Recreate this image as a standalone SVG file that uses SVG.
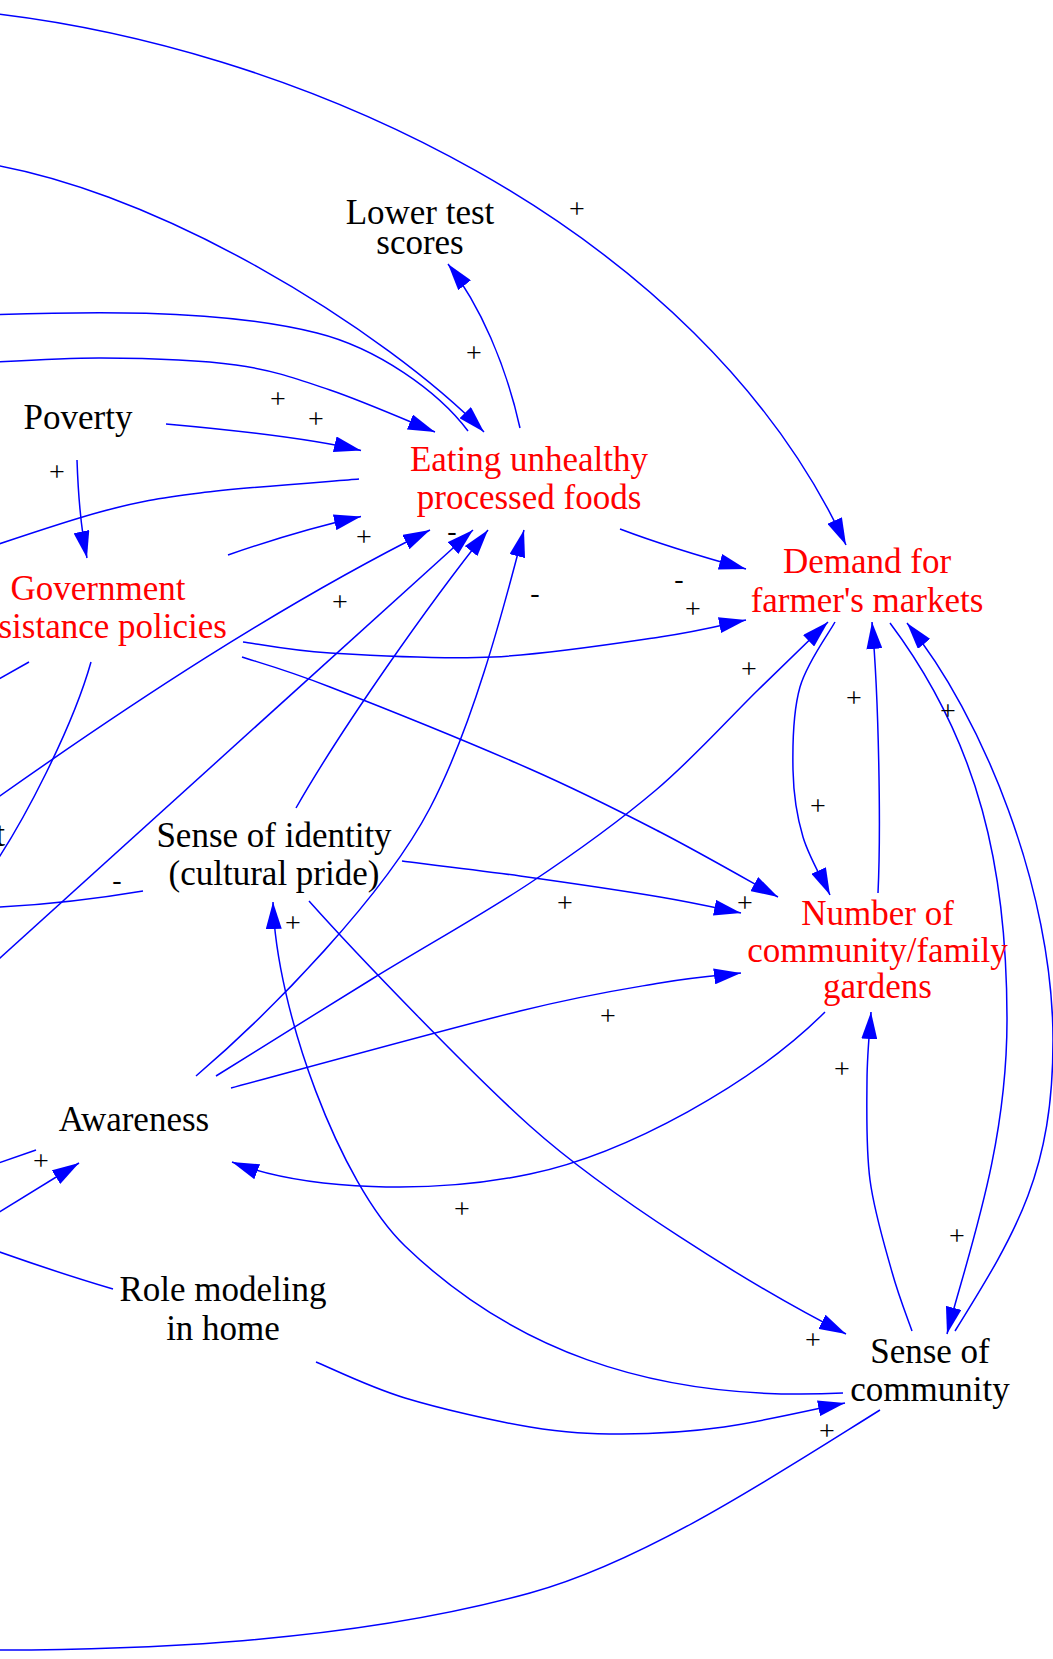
<svg xmlns="http://www.w3.org/2000/svg" width="1053" height="1659" viewBox="0 0 1053 1659">
<defs>
<marker id="ah" viewBox="0 0 27 16" markerWidth="27" markerHeight="16" markerUnits="userSpaceOnUse" refX="27" refY="8" orient="auto">
<path d="M0,0 L27,8 L0,16 Z" fill="#0000ff"/>
</marker>
<style>
.e{fill:none;stroke:#0000ff;stroke-width:1.5}
.a{marker-end:url(#ah)}
.n{font-family:"Liberation Serif","Times New Roman",serif;font-size:35px;text-anchor:middle;fill:#000}
.r{fill:#ff0000}
.l{font-family:"Liberation Serif","Times New Roman",serif;font-size:28px;text-anchor:middle;fill:#000}
</style>
</defs>
<rect width="1053" height="1659" fill="#ffffff"/>
<g id="connectors">
<path class="e a" d="M-40,10 C300,40 700,230 846,545"/>
<path class="e a" d="M-40,160 C150,180 390,335 484,432"/>
<path class="e" d="M468,431 C438,391 377,348 317,333 C217,308 80,311 -40,316"/>
<path class="e a" d="M-40,364 C-16.5,363 55,357.8 101,358 C147,358.2 197.8,359.7 236,365 C274.2,370.3 296.8,378.8 330,390 C363.2,401.2 417.5,425 435,432"/>
<path class="e a" d="M166,424 Q300,436 361,450.5"/>
<path class="e a" d="M77,460 Q79,520 87,558"/>
<path class="e" d="M359,479 C332.5,481.3 243.2,487.5 200,493 C156.8,498.5 140,501.3 100,512 C60,522.7 -16.7,549.5 -40,557"/>
<path class="e a" d="M228,555 Q300,530 361,516.5"/>
<path class="e a" d="M-20,810 C130,703.5 280,605 430,530"/>
<path class="e a" d="M-20,976 L473,530"/>
<path class="e a" d="M296,808 C341,729 428,605 488,530"/>
<path class="e a" d="M196,1076 C272,1011 384,896 430,808 C471.4,728.8 501.5,617.3 524,530"/>
<path class="e" d="M91,662 C74.2,722 24.4,825 -20,885"/>
<path class="e" d="M29,662 L-10,684"/>
<path class="e a" d="M243,642 C257.5,643.8 288.3,650.5 330,653 C371.7,655.5 438,659.7 493,657 C548,654.3 617.8,643.2 660,637 C702.2,630.8 731.7,622.8 746,620"/>
<path class="e a" d="M242,657 C256.7,662 282,668.3 330,687 C378,705.7 475,744.8 530,769 C585,793.2 618.7,810.7 660,832 C701.3,853.3 758.3,886.2 778,897"/>
<path class="e a" d="M620,529 Q670,548 746,569"/>
<path class="e a" d="M216,1076 C242,1059.8 319.7,1011.2 372,979 C424.3,946.8 482.7,914.5 530,883 C577.3,851.5 618,822.2 656,790 C694,757.8 729.3,718 758,690 C786.7,662 816.3,633.3 828,622"/>
<path class="e a" d="M402,861 C421.7,863.5 477,870 520,876 C563,882 623.2,890.8 660,897 C696.8,903.2 727.5,910.3 741,913"/>
<path class="e a" d="M231,1088 C279.2,1075.2 448.5,1028.5 520,1011 C591.5,993.5 623.2,989.3 660,983 C696.8,976.7 727.5,974.7 741,973"/>
<path class="e a" d="M825,1012 C754.3,1082.7 627.8,1153.4 530,1174 C432.2,1194.6 306.4,1190.8 232,1162"/>
<path class="e a" d="M309,901 C359,957 474,1076 530,1126 C604.5,1192.8 748,1284.5 846,1334"/>
<path class="e a" d="M843,1393 C643,1403 506,1343 405,1246 C340,1183.7 276,1010 273,902"/>
<path class="e a" d="M316,1362 C330.8,1368 369.3,1387.2 405,1398 C440.7,1408.8 493.8,1421 530,1427 C566.2,1433 589.7,1434 622,1434 C654.3,1434 686.8,1432.2 724,1427 C761.2,1421.8 824.8,1407 845,1403"/>
<path class="e" d="M880,1410 C778,1473.6 645.7,1561.2 530,1593 C337.2,1646 110,1651 -40,1650"/>
<path class="e" d="M113,1289 Q55,1272 -20,1245"/>
<path class="e a" d="M-20,1224 L79,1163"/>
<path class="e" d="M36,1150 L-10,1166"/>
<path class="e" d="M143,891 Q60,905 -20,908"/>
<path class="e a" d="M835,622 C829.2,632.8 807,662.3 800,687 C793,711.7 792.5,745 793,770 C793.5,795 796.8,816.2 803,837 C809.2,857.8 825.5,885.3 830,895"/>
<path class="e a" d="M878,893 C881,830 879,700 872,622"/>
<path class="e a" d="M912,1331 C908.7,1321.2 899,1297.2 892,1272 C885,1246.8 874.2,1212 870,1180 C865.8,1148 866.8,1108 867,1080 C867.2,1052 870.3,1023.3 871,1012"/>
<path class="e a" d="M890,623 C980,743 1007,870 1007,1020 C1007,1150 967,1256 947,1334"/>
<path class="e a" d="M955,1331 C1018.6,1229 1053,1170 1053,1040 C1053,890 982.6,715.4 907,623"/>
<path class="e a" d="M520,428 C506,365 480,305 448,264"/>
<g id="edge-labels">
<text class="l" x="577" y="218">+</text>
<text class="l" x="474" y="362">+</text>
<text class="l" x="278" y="408">+</text>
<text class="l" x="316" y="428">+</text>
<text class="l" x="57" y="481">+</text>
<text class="l" x="364" y="546">+</text>
<text class="l" x="452" y="540">-</text>
<text class="l" x="340" y="611">+</text>
<text class="l" x="535" y="602">-</text>
<text class="l" x="679" y="588">-</text>
<text class="l" x="693" y="618">+</text>
<text class="l" x="749" y="678">+</text>
<text class="l" x="854" y="707">+</text>
<text class="l" x="948" y="720">+</text>
<text class="l" x="818" y="815">+</text>
<text class="l" x="565" y="912">+</text>
<text class="l" x="745" y="912">+</text>
<text class="l" x="608" y="1025">+</text>
<text class="l" x="842" y="1078">+</text>
<text class="l" x="462" y="1218">+</text>
<text class="l" x="41" y="1170">+</text>
<text class="l" x="293" y="932">+</text>
<text class="l" x="117" y="889">-</text>
<text class="l" x="813" y="1349">+</text>
<text class="l" x="957" y="1245">+</text>
<text class="l" x="827" y="1440">+</text>
</g>
</g>
<g id="node-lower-test-scores"><text class="n" x="420" y="224">Lower test</text><text class="n" x="420" y="254">scores</text></g>
<g id="node-poverty"><text class="n" x="78" y="429">Poverty</text></g>
<g id="node-government"><text class="n r" x="98" y="600">Government</text><text class="n r" x="-1.5" y="638" style="text-anchor:start">sistance policies</text></g>
<g id="node-cut-left"><text class="n" x="5" y="846" style="text-anchor:end">t</text></g>
<g id="node-eating"><text class="n r" x="529" y="471">Eating unhealthy</text><text class="n r" x="529" y="509">processed foods</text></g>
<g id="node-demand"><text class="n r" x="867" y="573">Demand for</text><text class="n r" x="867" y="612">farmer's markets</text></g>
<g id="node-gardens"><text class="n r" x="877.5" y="925">Number of</text><text class="n r" x="877.5" y="962">community/family</text><text class="n r" x="877.5" y="998">gardens</text></g>
<g id="node-identity"><text class="n" x="274" y="847">Sense of identity</text><text class="n" x="274" y="885">(cultural pride)</text></g>
<g id="node-awareness"><text class="n" x="134" y="1131">Awareness</text></g>
<g id="node-role-modeling"><text class="n" x="223" y="1301">Role modeling</text><text class="n" x="223" y="1340">in home</text></g>
<g id="node-community"><text class="n" x="930" y="1363">Sense of</text><text class="n" x="930" y="1401">community</text></g>
</svg>
